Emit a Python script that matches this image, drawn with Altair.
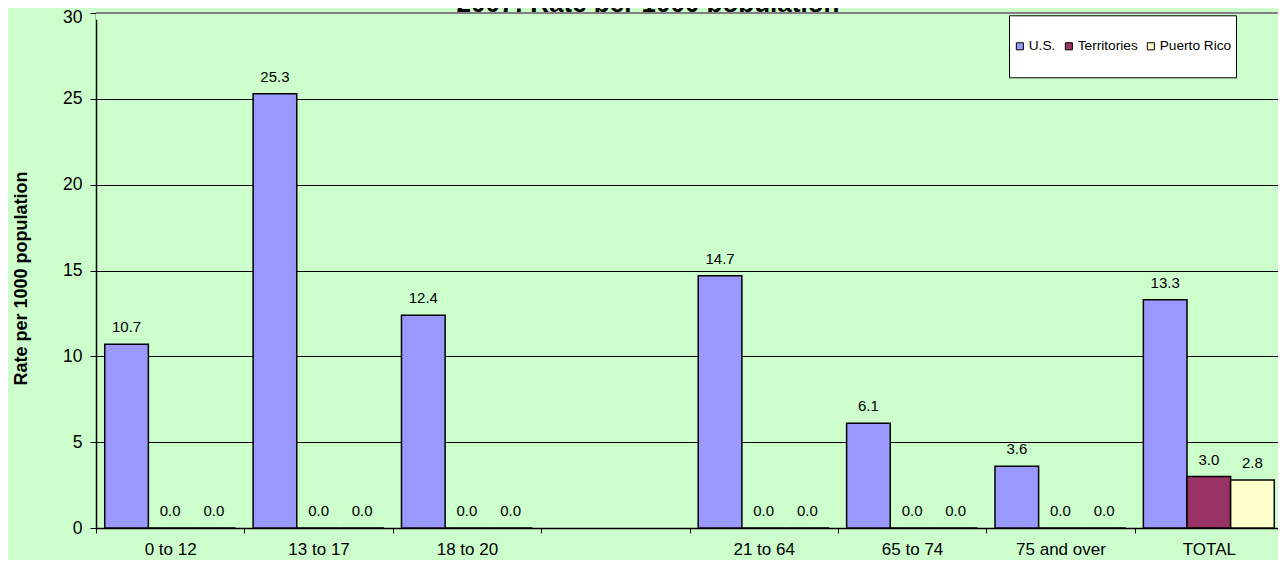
import altair as alt
import pandas as pd

# ---- data ----
categories = ["0 to 12", "13 to 17", "18 to 20", " ", "21 to 64", "65 to 74", "75 and over", "TOTAL"]
series = ["U.S.", "Territories", "Puerto Rico"]
us_values = [10.7, 25.3, 12.4, None, 14.7, 6.1, 3.6, 13.3]
territories_values = [0.0, 0.0, 0.0, None, 0.0, 0.0, 0.0, 3.0]
puerto_rico_values = [0.0, 0.0, 0.0, None, 0.0, 0.0, 0.0, 2.8]
series_colors = ["#9999FF", "#993366", "#FFFFCC"]
y_ticks = [0, 5, 10, 15, 20, 25, 30]
y_max = 30
title_text = "2007: Rate per 1000 population"
y_title = "Rate per 1000 population"

rows = []
for s, vals in zip(series, [us_values, territories_values, puerto_rico_values]):
    for c, v in zip(categories, vals):
        if v is not None:
            rows.append({"category": c, "series": s, "value": v})
df = pd.DataFrame(rows)

FONT = "Liberation Sans"
BG = "#CCFFCC"

x_enc = alt.X(
    "category:N",
    sort=categories,
    scale=alt.Scale(domain=categories, range=[0, 1187], paddingInner=0, paddingOuter=0),
    axis=alt.Axis(
        title=None, labelAngle=0, tickBand="extent", tickSize=5, tickColor="black",
        domainColor="black", domainWidth=1.5, labelFontSize=17, labelPadding=8,
        labelColor="black", labelFont=FONT, grid=False,
    ),
)
xoff = alt.XOffset("series:N", sort=series,
                   scale=alt.Scale(domain=series, paddingInner=0, paddingOuter=0.2))
y_enc = alt.Y(
    "value:Q",
    scale=alt.Scale(domain=[0, y_max], nice=False, zero=True),
    axis=alt.Axis(
        values=y_ticks, title=y_title, tickSize=6, tickColor="black", domainColor="black",
        domainWidth=1.5, labelFontSize=17.5, labelPadding=8, labelColor="black", labelFont=FONT,
        labelOffset=alt.condition(f"datum.value === {y_max}", alt.value(4.5), alt.value(0)),
        grid=True, gridColor="black", gridWidth=1,
        titleX=-70, titleY=265, titleAngle=270, titleAlign="center", titleBaseline="alphabetic",
        titleFontSize=18, titleFontWeight="bold", titleFont=FONT, titleColor="black",
    ),
)

color_enc = alt.Color(
    "series:N",
    sort=series,
    scale=alt.Scale(domain=series, range=series_colors),
    legend=alt.Legend(
        title=None, orient="none", legendX=913, legendY=2.3, direction="horizontal",
        fillColor="white", strokeColor="black", padding=4, symbolType="square",
        symbolSize=50, symbolStrokeColor="black", symbolStrokeWidth=1, symbolOpacity=1,
        labelFontSize=13.7, labelFont=FONT, labelColor="black", labelOffset=2,
        columnPadding=6, clipHeight=54,
    ),
)

# title drawn first, then partly hidden by the plot area (as in the reference)
title_layer = alt.Chart(pd.DataFrame({"t": [title_text]})).mark_text(
    font=FONT, fontSize=26, fontWeight="bold", align="center", baseline="alphabetic", color="black"
).encode(text="t:N", x=alt.value(552), y=alt.value(-0.7))

bars = alt.Chart(df).mark_bar(stroke="black", strokeWidth=1.5, opacity=1).encode(
    x=x_enc, xOffset=xoff, y=y_enc, color=color_enc
)

labels = alt.Chart(df).mark_text(
    dy=-12, baseline="alphabetic", align="center", fontSize=15, font=FONT, color="black"
).encode(x=x_enc, xOffset=xoff, y=y_enc, text=alt.Text("value:Q", format=".1f"))

strip = alt.Chart(pd.DataFrame({"value": [y_max], "value2": [y_max - 0.4]})).mark_rect(
    color=BG, opacity=1
).encode(y=y_enc, y2="value2:Q")

top_border = alt.Chart(pd.DataFrame({"value": [y_max]})).mark_rule(
    color="#808080", strokeWidth=2
).encode(y=y_enc)

chart = alt.layer(title_layer, bars, labels, strip, top_border).properties(
    width=1182,
    height=515,
    autosize=alt.AutoSizeParams(type="none"),
    padding={"left": 88, "top": 5, "right": 0, "bottom": 32},
    background=BG,
).configure_view(stroke=None).configure_axis(labelFont=FONT, titleFont=FONT)

chart.save("out.html", embed_options={"renderer": "svg", "actions": False})
